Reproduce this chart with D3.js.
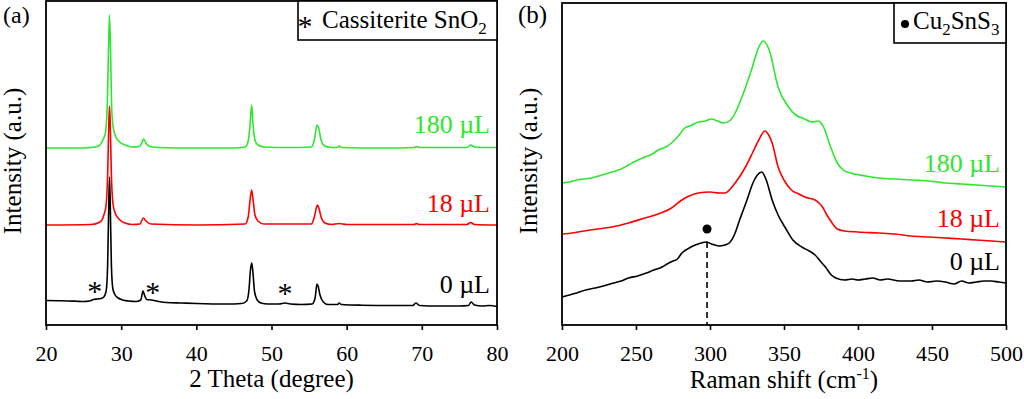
<!DOCTYPE html>
<html><head><meta charset="utf-8">
<script src="https://cdn.jsdelivr.net/npm/d3@7"></script>
<style>
body{margin:0;background:#fff;}
svg{display:block;}
</style></head>
<body>
<svg id="c" width="1024" height="399"></svg>
<script>
// ---------- Panel (a): XRD, intensity in arbitrary units ----------
const xrdTicks = [20, 30, 40, 50, 60, 70, 80];
const xrd0x = [20,22,24,25,25.8,26.3,26.8,27.3,27.7,28.0,28.2,28.35,28.45,28.55,28.7,28.9,29.2,29.6,30.2,31,32,32.6,32.9,33.1,33.4,34,35,36,38,40,44,46,46.7,47.0,47.2,47.36,47.5,47.75,48.1,48.6,49.5,51,51.8,52.5,54,55.4,55.8,56.05,56.2,56.45,56.9,57.5,58.8,59.0,59.3,62,66,68.8,69.2,69.7,72,75,76.2,76.55,77,78,79,80];
const xrd0y = [24.5,24.3,23.8,23.5,24,25.5,26,26.5,28,34,60,120,148,120,60,36,30,27,25,24,23.5,25,34,30,25.5,25,23.5,22.5,22,21.5,21,21.5,24,35,55,62,55,33,25,22,21,21,22,21,20.5,21,27,41,39,30,23,20.5,20.5,22,20.5,19.8,19.5,19.5,22,19.5,19,19,19.5,23,20,19,19.5,18.5];
const xrd18x = [20,26,27.2,27.7,28.0,28.2,28.35,28.45,28.55,28.7,28.9,29.2,29.7,30.5,31.5,32.5,32.95,33.3,34,40,46.5,46.9,47.15,47.36,47.55,47.8,48.2,49,55.3,55.7,56.1,56.3,56.6,57.1,58,59,60,69,69.3,69.6,76,76.5,77,80];
const xrd18y = [100,100.5,103,110,120,150,200,219,200,150,122,112,106,102,100.5,101,107,104,101,100,101,108,125,135,125,110,104,101,101,108,120,117,108,102,100.5,101.5,100.5,100.5,101.5,100.5,100.5,102.5,100.5,100];
const xrd180x = [20,24,26,27.0,27.5,27.9,28.15,28.3,28.45,28.6,28.75,28.95,29.3,29.8,30.5,31.5,32.4,32.8,33.0,33.3,33.8,35,40,45,46.5,46.9,47.15,47.36,47.55,47.8,48.2,49,52,55.3,55.7,56.05,56.3,56.6,57.1,58,58.8,59.0,59.3,65,69.0,69.3,69.7,76.0,76.5,77,79,80];
const xrd180y = [177,177,177.5,179,184,192,220,270,310,270,215,197,188,183,180,178,178.5,183,186,182,178.5,177.5,177,177,178,184,200,220,200,185,180,178,177.5,178,185,200,196,185,179,177.5,177.5,179,177.5,177,177.5,178.5,177.5,177.5,180,178,177.5,177.5];
const starX = [26.47, 34.2, 51.8];
const starY = [38, 37, 36];

// ---------- Panel (b): Raman ----------
const ramanTicks = [200, 250, 300, 350, 400, 450, 500];
const ram0x = [200,205,210,216,222.5,228,235,240,245,251,257,262,267.6,271,275,278,281,286,290,294,297.5,301,306,310,313,317,320,322,325,329,332,335,338,342,346,351,356,362,367,371,375,378,382,385,391,396,400,405,410,415,420,428,436,441,447,453,459,465,470,475,480,485,490,495,500];
const ram0y = [28,30,32,35,37,39,42,44,47,49,52,55,58,61,64,66,72,77,80,82,83,81,79,80,82,92,105,113,125,142,150,153,145,125,110,97,85,78,74,70,63,58,50,47,45,46,45,46,47,45,46,44,44,45,43,44,43,41,44,42,43,44,44,43,42];
const ram18x = [200,207,215,224,234,245,256,265,274,281,286,292,300,306,310,317,324,329,333,337,340,342,346,350,355,360,364,371,376,379,382,386,391,400,414,425,436,448,459,470,480,490,500];
const ram18y = [91,92,94,96,98,102,107,111,117,125,129,132,133,132,132,142,158,173,185,194,189,182,158,145,135,131,128,125,118,110,103,96,94,93,92,91,89,88,87,86,85,84,83];
const ram180x = [200,205,210,215,220,227,233.8,240,245,250,256,261,265,270,274,278,283,288,292,297,301,305,309,314,321.6,328,333,336,340,346,353,358,364,369,373,377,381,386,390,395,405,414,425,436,448,459,470,480,490,500];
const ram180y = [142,143,145,146,147,150,153,156,160,164,168,171,175,178,182,188,197,200,203,204,206,204,202,205,228,255,278,284,275,238,218,210,206,203,204,197,180,162,155,152,149,147,146,145,144,142,141,140,139,138];
const markX = [298];
const markTopY = [83];
const dotY = [96];

const labels = ["0 µL", "18 µL", "180 µL"];
const colors = ["#000000", "#ff0000", "#2ee62e"];
const FONT = "Liberation Serif";

const svg = d3.select("#c");

function txt(sel, size) {
  return sel.style("font-family", FONT).style("font-size", size + "px");
}

function panel(opt) {
  const g = svg.append("g");
  const x = d3.scaleLinear().domain(opt.xDomain).range([opt.left, opt.right]);
  const y = d3.scaleLinear().domain([0, opt.bottom - opt.top]).range([opt.bottom, opt.top]);
  const line = d3.line().x(d => x(d[0])).y(d => y(d[1])).curve(d3.curveMonotoneX);
  opt.series.forEach((s, i) => {
    const pts = s[0].map((v, k) => [v, s[1][k]]);
    g.append("path").attr("d", line(pts)).attr("fill", "none")
      .attr("stroke", colors[i]).attr("stroke-width", 1.6).attr("stroke-linejoin", "round");
  });
  const ax = g.append("g").attr("transform", `translate(0,${opt.bottom})`)
    .call(d3.axisBottom(x).tickValues(opt.ticks).tickSizeInner(5).tickSizeOuter(0).tickPadding(15));
  ax.select(".domain").remove();
  ax.selectAll(".tick line").attr("stroke", "#000").attr("stroke-width", 1.6);
  txt(ax.selectAll(".tick text"), 22).attr("fill", "#000");
  g.append("rect").attr("x", opt.left).attr("y", opt.top)
    .attr("width", opt.right - opt.left).attr("height", opt.bottom - opt.top)
    .attr("fill", "none").attr("stroke", "#000").attr("stroke-width", 1.8);
  opt.labelY.forEach((ly, i) => {
    txt(g.append("text"), 26).attr("x", opt.labelX).attr("y", ly).attr("text-anchor", "end")
      .attr("fill", colors[i]).text(labels[i]);
  });
  txt(g.append("text"), 25).attr("transform", `translate(${opt.yTitleX},161) rotate(-90)`)
    .attr("text-anchor", "middle").text("Intensity (a.u.)");
  return {g, x, y};
}

const A = panel({
  xDomain: [20, 80], left: 46, right: 497, top: 1, bottom: 325,
  ticks: xrdTicks,
  series: [[xrd0x, xrd0y], [xrd18x, xrd18y], [xrd180x, xrd180y]],
  labelX: 490, labelY: [293, 212, 133], yTitleX: 21
});
txt(A.g.append("text"), 25).attr("x", 271.5).attr("y", 387).attr("text-anchor", "middle")
  .text("2 Theta (degree)");
txt(A.g.append("text"), 24).attr("x", 3).attr("y", 23).text("(a)");
txt(A.g.selectAll(".star").data(starX).enter().append("text"), 30)
  .attr("x", d => A.x(d)).attr("y", (d, i) => A.y(starY[i]) + 14)
  .attr("text-anchor", "middle").text("*");
A.g.append("rect").attr("x", 298).attr("y", 1).attr("width", 199).attr("height", 39)
  .attr("fill", "#fff").attr("stroke", "#000").attr("stroke-width", 1.6);
txt(A.g.append("text"), 30).attr("x", 305).attr("y", 36).attr("text-anchor", "middle").text("*");
const la = txt(A.g.append("text"), 25).attr("x", 322).attr("y", 28);
la.append("tspan").text("Cassiterite SnO");
la.append("tspan").attr("dy", 6).style("font-size", "17px").text("2");

const B = panel({
  xDomain: [200, 500], left: 562, right: 1006, top: 3, bottom: 325,
  ticks: ramanTicks,
  series: [[ram0x, ram0y], [ram18x, ram18y], [ram180x, ram180y]],
  labelX: 1000, labelY: [270, 227, 172], yTitleX: 537
});
const tb = txt(B.g.append("text"), 25).attr("x", 784).attr("y", 388).attr("text-anchor", "middle");
tb.append("tspan").text("Raman shift (cm");
tb.append("tspan").attr("dy", -9).style("font-size", "16px").text("-1");
tb.append("tspan").attr("dy", 9).text(")");
txt(B.g.append("text"), 25).attr("x", 518).attr("y", 23).text("(b)");
B.g.selectAll(".mk").data(markX).enter().append("line")
  .attr("x1", d => B.x(d)).attr("x2", d => B.x(d))
  .attr("y1", (d, i) => B.y(markTopY[i])).attr("y2", B.y(0))
  .attr("stroke", "#000").attr("stroke-width", 1.6).attr("stroke-dasharray", "6,4");
B.g.selectAll(".dot").data(markX).enter().append("circle")
  .attr("cx", d => B.x(d)).attr("cy", (d, i) => B.y(dotY[i])).attr("r", 4.5).attr("fill", "#000");
B.g.append("rect").attr("x", 894).attr("y", 3).attr("width", 112).attr("height", 40)
  .attr("fill", "#fff").attr("stroke", "#000").attr("stroke-width", 1.6);
B.g.append("circle").attr("cx", 905).attr("cy", 24).attr("r", 4).attr("fill", "#000");
const lb = txt(B.g.append("text"), 25).attr("x", 913).attr("y", 29);
lb.append("tspan").text("Cu");
lb.append("tspan").attr("dy", 6).style("font-size", "17px").text("2");
lb.append("tspan").attr("dy", -6).text("SnS");
lb.append("tspan").attr("dy", 6).style("font-size", "17px").text("3");
</script>
</body></html>
